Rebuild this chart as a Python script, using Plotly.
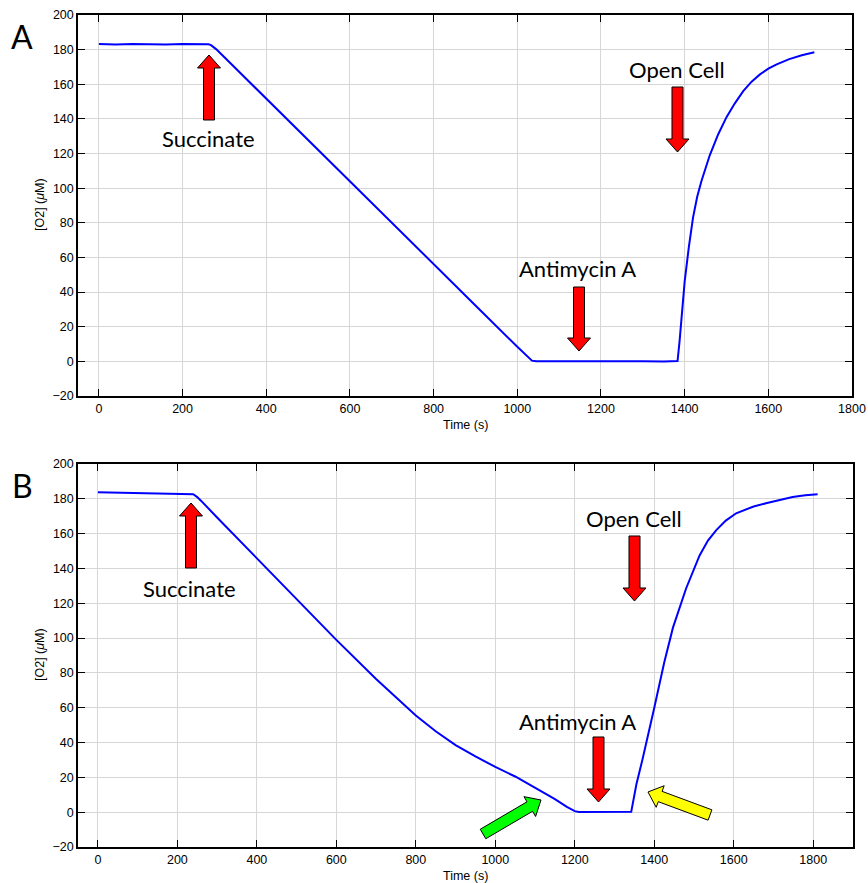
import math
import plotly.graph_objects as go

# ---------------- data ----------------
time_a = [0, 40, 80, 120, 160, 200, 240, 262, 268, 274, 280, 300, 400, 500, 600, 700,
          800, 900, 1000, 1025, 1035, 1045, 1100, 1150, 1200, 1250, 1300, 1350, 1383,
          1388, 1392, 1396, 1400, 1410, 1420, 1430, 1440, 1460, 1480, 1500, 1520, 1540,
          1560, 1580, 1600, 1620, 1650, 1680, 1710]
o2_a = [183.2, 183.0, 183.3, 183.1, 183.0, 183.2, 183.0, 183.1, 182.6, 181.5, 180.3,
        175.6, 151.8, 127.9, 104.0, 80.1, 56.2, 32.3, 8.4, 2.3, 0.4, 0.0, 0.1, -0.1,
        0.1, 0.0, 0.1, -0.1, 0.2, 12.0, 24.0, 35.0, 46.0, 66.0, 83.0, 95.0, 104.0,
        119.0, 131.0, 141.0, 149.0, 156.0, 161.5, 165.7, 169.0, 171.5, 174.5, 176.8, 178.5]

time_b = [0, 50, 100, 150, 200, 230, 240, 250, 260, 300, 400, 500, 600, 700, 750, 800,
          850, 900, 950, 1000, 1050, 1100, 1150, 1180, 1200, 1210, 1250, 1300, 1342,
          1355, 1370, 1400, 1425, 1447, 1480, 1514, 1535, 1556, 1580, 1606, 1630, 1650,
          1681, 1720, 1748, 1780, 1811]
o2_b = [183.8, 183.6, 183.4, 183.3, 183.1, 183.0, 182.6, 181.0, 178.8, 169.3, 145.9,
        122.5, 99.0, 76.5, 65.8, 55.5, 46.5, 38.5, 32.0, 26.0, 20.5, 14.0, 7.5, 3.0,
        0.6, 0.1, 0.0, 0.1, 0.2, 16.0, 30.0, 60.0, 86.0, 106.0, 128.5, 147.5, 156.0,
        162.0, 167.5, 171.7, 174.0, 175.6, 177.4, 179.6, 181.0, 182.0, 182.6]

x_ticks = [0, 200, 400, 600, 800, 1000, 1200, 1400, 1600, 1800]
y_ticks = [-20, 0, 20, 40, 60, 80, 100, 120, 140, 160, 180, 200]

panel_labels = ["A", "B"]
x_title = "Time (s)"
y_title = "[O2] (<i>\u03bc</i>M)"

# ---------------- layout helpers ----------------
W, H = 868, 883


def px(x):
    return x / W


def py(y):
    return 1 - y / H


def arrow_path(tail, tip, shaft_w=11, head_w=23, head_len=13):
    tx, ty = tail
    hx, hy = tip
    dx, dy = hx - tx, hy - ty
    L = math.hypot(dx, dy)
    ux, uy = dx / L, dy / L
    nx, ny = -uy, ux
    bx, by = hx - ux * head_len, hy - uy * head_len
    pts = [
        (tx + nx * shaft_w / 2, ty + ny * shaft_w / 2),
        (bx + nx * shaft_w / 2, by + ny * shaft_w / 2),
        (bx + nx * head_w / 2, by + ny * head_w / 2),
        (hx, hy),
        (bx - nx * head_w / 2, by - ny * head_w / 2),
        (bx - nx * shaft_w / 2, by - ny * shaft_w / 2),
        (tx - nx * shaft_w / 2, ty - ny * shaft_w / 2),
    ]
    s = "M " + " L ".join(f"{px(a):.5f},{py(b):.5f}" for a, b in pts) + " Z"
    return s


fig = go.Figure()
fig.add_trace(go.Scatter(x=time_a, y=o2_a, mode="lines",
                         line=dict(color="#0000ff", width=2), xaxis="x", yaxis="y",
                         showlegend=False, hoverinfo="skip"))
fig.add_trace(go.Scatter(x=time_b, y=o2_b, mode="lines",
                         line=dict(color="#0000ff", width=2), xaxis="x2", yaxis="y2",
                         showlegend=False, hoverinfo="skip"))

tick_font = dict(family="Liberation Sans, Arial, sans-serif", size=12.5, color="black")
common_x = dict(tickvals=x_ticks, ticks="inside", ticklen=7, tickcolor="black",
                showline=True, linecolor="black", linewidth=1.5, mirror="allticks",
                showgrid=True, gridcolor="#d6d6d6", gridwidth=1, zeroline=False,
                tickfont=tick_font, automargin=False)
common_y = dict(tickvals=y_ticks, ticks="inside", ticklen=7, tickcolor="black",
                showline=True, linecolor="black", linewidth=1.5, mirror="allticks",
                showgrid=True, gridcolor="#d6d6d6", gridwidth=1, zeroline=False,
                tickfont=tick_font, range=[-20, 200], automargin=False)

fig.update_layout(
    width=W, height=H,
    margin=dict(l=0, r=0, t=0, b=0, pad=0),
    paper_bgcolor="white", plot_bgcolor="white",
    xaxis=dict(domain=[px(78), px(852)], range=[-50, 1800], anchor="y", **common_x),
    yaxis=dict(domain=[py(396), py(15)], anchor="x", **common_y),
    xaxis2=dict(domain=[px(78), px(853)], range=[-50, 1900], anchor="y2", **common_x),
    yaxis2=dict(domain=[py(847), py(464)], anchor="x2", **common_y),
)

ann = []
label_font = dict(family="Liberation Sans, Arial, sans-serif", size=12.5, color="black")
# axis titles
for cx, cy in [(465, 425), (465, 876)]:
    ann.append(dict(x=px(cx), y=py(cy), xref="paper", yref="paper", text=x_title,
                    showarrow=False, font=label_font, xanchor="center", yanchor="middle"))
for cx, cy in [(40, 205), (40, 655)]:
    ann.append(dict(x=px(cx), y=py(cy), xref="paper", yref="paper", text=y_title,
                    showarrow=False, font=label_font, textangle=-90,
                    xanchor="center", yanchor="middle"))
# panel labels
for lab, (cx, cy) in zip(panel_labels, [(22, 37), (22, 486)]):
    ann.append(dict(x=px(cx), y=py(cy), xref="paper", yref="paper", text=lab,
                    showarrow=False, font=dict(family="Lato, sans-serif", size=32, color="black"),
                    xanchor="center", yanchor="middle"))

# event labels
event_font = dict(family="Lato, Open Sans, sans-serif", size=22, color="black")
event_texts = [("Succinate", 208, 138), ("Open Cell", 677, 70), ("Antimycin A", 577, 268),
               ("Succinate", 189, 588), ("Open Cell", 634, 518), ("Antimycin A", 577, 721)]
for t, cx, cy in event_texts:
    ann.append(dict(x=px(cx), y=py(cy), xref="paper", yref="paper", text=t,
                    showarrow=False, font=event_font, xanchor="center", yanchor="middle"))
fig.update_layout(annotations=ann)

# block arrows (tail, tip, fill colour)
arrows = [
    ((209, 120), (209, 55), "#ff0000"),
    ((677.5, 87), (677.5, 152), "#ff0000"),
    ((579, 287), (579, 351), "#ff0000"),
    ((191, 568), (191, 503), "#ff0000"),
    ((634.5, 536), (634.5, 601), "#ff0000"),
    ((598.5, 737), (598.5, 802), "#ff0000"),
    ((483, 834), (541, 800), "#00ff00"),
    ((710, 815), (648, 792), "#ffff00"),
]
shapes = []
for tail, tip, col in arrows:
    shapes.append(dict(type="path", xref="paper", yref="paper",
                       path=arrow_path(tail, tip), fillcolor=col,
                       line=dict(color="black", width=1), layer="above"))
fig.update_layout(shapes=shapes)

fig.write_html("out.html")
